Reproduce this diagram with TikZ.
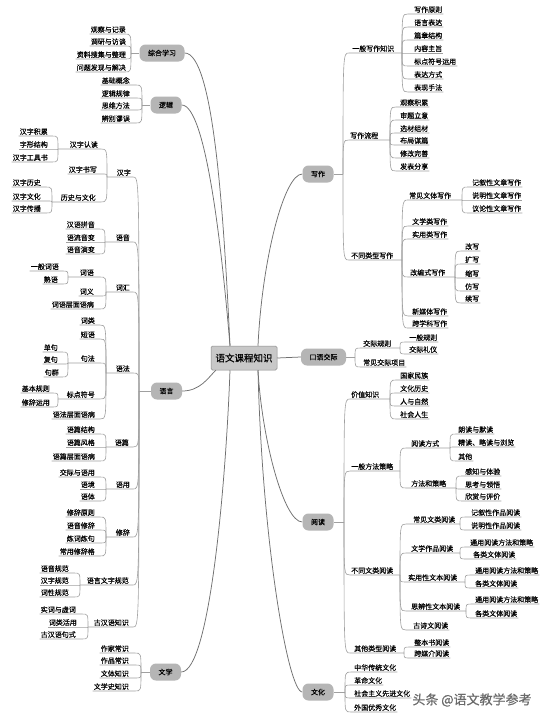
\documentclass[tikz,border=0pt]{standalone}
\usepackage{fontspec}
\setmainfont{Noto Sans CJK SC}[FakeBold=0.35]
\usetikzlibrary{calc}
\definecolor{boxgray}{HTML}{B5B5B5}
\definecolor{rootgray}{HTML}{C8C8C8}
\definecolor{rootline}{HTML}{8C8C8C}
\definecolor{trunkline}{HTML}{707070}
\definecolor{connline}{HTML}{A0A0A0}
\definecolor{wmgray}{HTML}{6A6A6A}
\newcommand\leaffont{\fontsize{7}{8}\selectfont}
\tikzset{
 leaf/.style={font=\leaffont, inner sep=1pt, text=black},
 conn/.style={draw=connline, line width=0.6pt},
 trunk/.style={draw=trunkline, line width=0.75pt},
 mainbox/.style={fill=boxgray, rounded corners=6pt, minimum height=17pt, inner xsep=8.5pt, inner ysep=2pt, font=\leaffont},
 rootbox/.style={fill=rootgray, draw=rootline, line width=0.5pt, rounded corners=1.5pt, minimum width=66pt, minimum height=24pt, font=\fontsize{9.5}{11}\selectfont},
 wmark/.style={font=\fontsize{13}{15}\selectfont, text=wmgray, inner sep=0pt},
}
\newcommand\lleaf[5]{%
 \node[leaf, anchor=south east] (#1) at (#3,#4) {#5};
 \draw[conn] (#2) .. controls (#2 |- #1.south) and (#2 |- #1.south) .. ($(#2 |- #1.south)+(-6,0)$) -- (#1.south west);}
\newcommand\lmid[6]{%
 \node[leaf, anchor=south east] (#1) at (#3,#4) {#5};
 \coordinate (#1j) at (#6,#4);
 \draw[conn] (#2) .. controls (#2 |- #1j) and (#2 |- #1j) .. ($(#2 |- #1j)+(-6,0)$) -- (#1j);}
\newcommand\rleaf[5]{%
 \node[leaf, anchor=south west] (#1) at (#3,#4) {#5};
 \draw[conn] (#2) .. controls (#2 |- #1.south) and (#2 |- #1.south) .. ($(#2 |- #1.south)+(6,0)$) -- (#1.south east);}
\newcommand\rmid[6]{%
 \node[leaf, anchor=south west] (#1) at (#3,#4) {#5};
 \coordinate (#1j) at (#6,#4);
 \draw[conn] (#2) .. controls (#2 |- #1j) and (#2 |- #1j) .. ($(#2 |- #1j)+(6,0)$) -- (#1j);}
\begin{document}
\begin{tikzpicture}[x=1pt,y=-1pt]
\useasboundingbox (0,0) rectangle (548,720);
\fill[white] (0,0) rectangle (548,720);

% root
\node[rootbox] (root) at (244,358) {语文课程知识};

% main nodes
\node[mainbox] (zh) at (162,53) {综合学习};
\node[mainbox] (lj) at (166,105) {逻辑};
\node[mainbox] (yy) at (166.5,391) {语言};
\node[mainbox] (wx) at (165.5,672) {文学};
\node[mainbox] (xz) at (318,174) {写作};
\node[mainbox] (ky) at (323.5,357) {口语交际};
\node[mainbox] (yd) at (318,522) {阅读};
\node[mainbox] (wh) at (318,692) {文化};

% trunk curves
\draw[trunk] (zh.east) .. controls (214,53) and (224,220) .. ($(root.north)+(-14,0)$);
\draw[trunk] (lj.east) .. controls (206,105) and (222,250) .. ($(root.north)+(-14,0)$);
\draw[trunk] (yy.east) .. controls (200,391) and (208,378) .. ($(root.south west)+(5,0)$);
\draw[trunk] (wx.east) .. controls (210,672) and (226,480) .. ($(root.south)+(-14,0)$);
\draw[trunk] (xz.west) .. controls (284,174) and (262,260) .. ($(root.north)+(14,0)$);
\draw[trunk] (root.east) -- (ky.west);
\draw[trunk] (yd.west) .. controls (284,522) and (262,440) .. ($(root.south)+(14,0)$);
\draw[trunk] (wh.west) .. controls (288,692) and (262,540) .. ($(root.south)+(14,0)$);

% junctions of main nodes
\coordinate (zhj) at (131,53);
\coordinate (ljj) at (142,105);
\coordinate (yyj) at (139,391);
\coordinate (wxj) at (141,672);
\coordinate (xzj) at (343,174);
\coordinate (kyj) at (355,357);
\coordinate (ydj) at (344,522);
\coordinate (whj) at (345,692);
\draw[conn] (zhj) -- (zh.west);
\draw[conn] (ljj) -- (lj.west);
\draw[conn] (yyj) -- (yy.west);
\draw[conn] (wxj) -- (wx.west);
\draw[conn] (xzj) -- (xz.east);
\draw[conn] (kyj) -- (ky.east);
\draw[conn] (ydj) -- (yd.east);
\draw[conn] (whj) -- (wh.east);

% ---------- 综合学习
\lleaf{zh1}{zhj}{127}{34}{观察与记录}
\lleaf{zh2}{zhj}{127}{46}{调研与访谈}
\lleaf{zh3}{zhj}{127}{59}{资料搜集与整理}
\lleaf{zh4}{zhj}{127}{72}{问题发现与解决}

% ---------- 逻辑
\lleaf{lj1}{ljj}{131}{85}{基础概念}
\lleaf{lj2}{ljj}{131}{98}{逻辑规律}
\lleaf{lj3}{ljj}{131}{110}{思维方法}
\lleaf{lj4}{ljj}{131}{123}{辨别谬误}

% ---------- 语言
\lmid{hz}{yyj}{132}{177}{汉字}{107}
\lmid{hz1}{hzj}{99}{149}{汉字认读}{58}
\lleaf{hz11}{hz1j}{49}{136}{汉字积累}
\lleaf{hz12}{hz1j}{49}{149}{字形结构}
\lleaf{hz13}{hz1j}{49}{162}{汉字工具书}
\lleaf{hz2}{hzj}{98}{174}{汉字书写}
\lmid{hz3}{hzj}{97}{202}{历史与文化}{52}
\lleaf{hz31}{hz3j}{42}{187}{汉字历史}
\lleaf{hz32}{hz3j}{42}{201}{汉字文化}
\lleaf{hz33}{hz3j}{42}{213}{汉字传播}

\lmid{yu}{yyj}{131}{242}{语音}{105}
\lleaf{yu1}{yuj}{96}{229}{汉语拼音}
\lleaf{yu2}{yuj}{96}{242}{语流音变}
\lleaf{yu3}{yuj}{96}{254}{语音演变}

\lmid{ch}{yyj}{131}{292}{词汇}{106}
\lmid{ch1}{chj}{95}{277}{词语}{68}
\lleaf{ch11}{ch1j}{60}{271}{一般词语}
\lleaf{ch12}{ch1j}{59}{284}{熟语}
\lleaf{ch2}{chj}{95}{296}{词义}
\lleaf{ch3}{chj}{95}{309}{词语层面语病}

\lmid{yf}{yyj}{131}{373}{语法}{106}
\lleaf{yf1}{yfj}{96}{325}{词类}
\lleaf{yf2}{yfj}{96}{339}{短语}
\lmid{yf3}{yfj}{96}{363}{句法}{68}
\lleaf{yf31}{yf3j}{59}{352}{单句}
\lleaf{yf32}{yf3j}{59}{364}{复句}
\lleaf{yf33}{yf3j}{60}{377}{句群}
\lmid{yf4}{yfj}{96}{399}{标点符号}{58}
\lleaf{yf41}{yf4j}{51}{393}{基本规则}
\lleaf{yf42}{yf4j}{51}{407}{修辞运用}
\lleaf{yf5}{yfj}{96}{419}{语法层面语病}

\lmid{yp}{yyj}{130}{447}{语篇}{106}
\lleaf{yp1}{ypj}{96}{434}{语篇结构}
\lleaf{yp2}{ypj}{96}{447}{语篇风格}
\lleaf{yp3}{ypj}{96}{461}{语篇层面语病}

\lmid{yg}{yyj}{131}{489}{语用}{106}
\lleaf{yg1}{ygj}{96}{477}{交际与语用}
\lleaf{yg2}{ygj}{96}{489}{语境}
\lleaf{yg3}{ygj}{96}{501}{语体}

\lmid{xc}{yyj}{131}{537}{修辞}{106}
\lleaf{xc1}{xcj}{96}{517}{修辞原则}
\lleaf{xc2}{xcj}{96}{530}{语音修辞}
\lleaf{xc3}{xcj}{96}{543}{炼词炼句}
\lleaf{xc4}{xcj}{96}{556}{常用修辞格}

\lmid{gf}{yyj}{130}{585}{语言文字规范}{80}
\lleaf{gf1}{gfj}{70}{573}{语音规范}
\lleaf{gf2}{gfj}{70}{585}{汉字规范}
\lleaf{gf3}{gfj}{70}{597}{词性规范}

\lmid{gh}{yyj}{130}{627}{古汉语知识}{88}
\lleaf{gh1}{ghj}{77}{614}{实词与虚词}
\lleaf{gh2}{ghj}{78}{627}{词类活用}
\lleaf{gh3}{ghj}{77}{639}{古汉语句式}

% ---------- 文学
\lleaf{wx1}{wxj}{130}{653}{作家常识}
\lleaf{wx2}{wxj}{130}{665}{作品常识}
\lleaf{wx3}{wxj}{130}{678}{文体知识}
\lleaf{wx4}{wxj}{130}{691}{文学史知识}

% ---------- 写作
\rmid{xa}{xzj}{351}{53}{一般写作知识}{402}
\rleaf{xa1}{xaj}{413}{14}{写作原则}
\rleaf{xa2}{xaj}{413}{27}{语言表达}
\rleaf{xa3}{xaj}{413}{40}{篇章结构}
\rleaf{xa4}{xaj}{413}{53}{内容主旨}
\rleaf{xa5}{xaj}{413}{66}{标点符号运用}
\rleaf{xa6}{xaj}{413}{79}{表达方式}
\rleaf{xa7}{xaj}{413}{92}{表现手法}

\rmid{xb}{xzj}{349}{140}{写作流程}{390}
\rleaf{xb1}{xbj}{399}{107}{观察积累}
\rleaf{xb2}{xbj}{399}{120}{审题立意}
\rleaf{xb3}{xbj}{399}{133}{选材组材}
\rleaf{xb4}{xbj}{399}{145}{布局谋篇}
\rleaf{xb5}{xbj}{399}{158}{修改完善}
\rleaf{xb6}{xbj}{399}{171}{发表分享}

\rmid{xt}{xzj}{350}{260}{不同类型写作}{402}
\rmid{xt1}{xtj}{408}{200}{常见文体写作}{462}
\rleaf{xt11}{xt1j}{471}{187}{记叙性文章写作}
\rleaf{xt12}{xt1j}{471}{200}{说明性文章写作}
\rleaf{xt13}{xt1j}{471}{213}{议论性文章写作}
\rleaf{xt2}{xtj}{411}{226}{文学类写作}
\rleaf{xt3}{xtj}{411}{239}{实用类写作}
\rmid{xt4}{xtj}{409}{277}{改编式写作}{455}
\rleaf{xt41}{xt4j}{464}{251}{改写}
\rleaf{xt42}{xt4j}{464}{264}{扩写}
\rleaf{xt43}{xt4j}{464}{278}{缩写}
\rleaf{xt44}{xt4j}{464}{291}{仿写}
\rleaf{xt45}{xt4j}{464}{303}{续写}
\rleaf{xt5}{xtj}{411}{316}{新媒体写作}
\rleaf{xt6}{xtj}{411}{328}{跨学科写作}

% ---------- 口语交际
\rmid{ky1}{kyj}{362}{348}{交际规则}{400}
\rleaf{ky11}{ky1j}{408}{342}{一般规则}
\rleaf{ky12}{ky1j}{408}{354}{交际礼仪}
\rleaf{ky2}{kyj}{362}{367}{常见交际项目}

% ---------- 阅读
\rmid{ya}{ydj}{350}{399}{价值知识}{390}
\rleaf{ya1}{yaj}{399}{380}{国家民族}
\rleaf{ya2}{yaj}{399}{393}{文化历史}
\rleaf{ya3}{yaj}{399}{406}{人与自然}
\rleaf{ya4}{yaj}{399}{419}{社会人生}

\rmid{yb}{ydj}{350}{471}{一般方法策略}{400}
\rmid{yb1}{ybj}{410}{448}{阅读方式}{450}
\rleaf{yb11}{yb1j}{457}{434}{朗读与默读}
\rleaf{yb12}{yb1j}{457}{447}{精读、略读与浏览}
\rleaf{yb13}{yb1j}{457}{461}{其他}
\rmid{yb2}{ybj}{410}{488}{方法和策略}{456}
\rleaf{yb21}{yb2j}{464}{476}{感知与体验}
\rleaf{yb22}{yb2j}{464}{489}{思考与领悟}
\rleaf{yb23}{yb2j}{464}{501}{欣赏与评价}

\rmid{yc}{ydj}{350}{575}{不同文类阅读}{400}
\rmid{yc1}{ycj}{412}{524}{常见文类阅读}{460}
\rleaf{yc11}{yc1j}{470}{517}{记叙性作品阅读}
\rleaf{yc12}{yc1j}{470}{530}{说明性作品阅读}
\rmid{yc2}{ycj}{410}{553}{文学作品阅读}{460}
\rleaf{yc21}{yc2j}{469}{547}{通用阅读方法和策略}
\rleaf{yc22}{yc2j}{472}{559}{各类文体阅读}
\rmid{yc3}{ycj}{407}{582}{实用性文本阅读}{465}
\rleaf{yc31}{yc3j}{474}{575}{通用阅读方法和策略}
\rleaf{yc32}{yc3j}{474}{588}{各类文体阅读}
\rmid{yc4}{ycj}{410}{611}{思辨性文本阅读}{466}
\rleaf{yc41}{yc4j}{474}{604}{通用阅读方法和策略}
\rleaf{yc42}{yc4j}{474}{618}{各类文体阅读}
\rleaf{yc5}{ycj}{412}{630}{古诗文阅读}

\rmid{ye}{ydj}{353}{653}{其他类型阅读}{404}
\rleaf{ye1}{yej}{413}{647}{整本书阅读}
\rleaf{ye2}{yej}{413}{658}{跨媒介阅读}

% ---------- 文化
\rleaf{wh1}{whj}{353}{672}{中华传统文化}
\rleaf{wh2}{whj}{353}{685}{革命文化}
\rleaf{wh3}{whj}{353}{698}{社会主义先进文化}
\rleaf{wh4}{whj}{353}{712}{外国优秀文化}

% watermark
\node[wmark] (wm) at (472,700) {头条 @语文教学参考};
\end{tikzpicture}
\end{document}
